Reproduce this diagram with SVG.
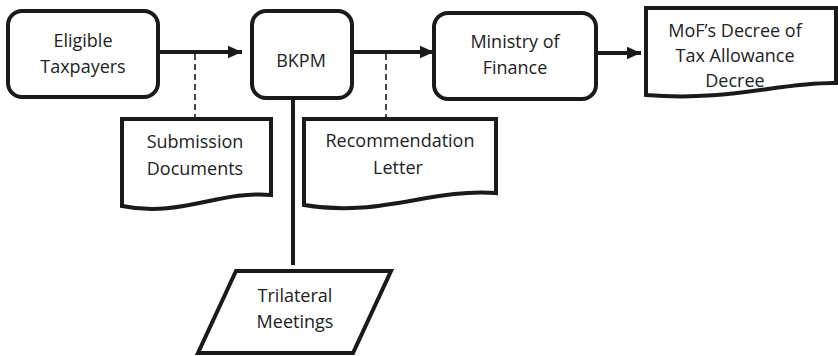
<svg xmlns="http://www.w3.org/2000/svg" width="838" height="356" viewBox="0 0 838 356">
<style>
.box{fill:#fff;stroke:#1a1a1a;stroke-width:4;stroke-linejoin:round}
.doc{fill:#fff;stroke:#1a1a1a;stroke-width:4;stroke-linejoin:miter}
.t{font-family:"Open Sans","Liberation Sans",sans-serif;font-size:18px;fill:#222;text-anchor:middle}
.ln{stroke:#1a1a1a;stroke-width:4;fill:none}
.dash{stroke:#1a1a1a;stroke-width:1.6;stroke-dasharray:6 4;fill:none}
</style>
<defs>
<marker id="ah" markerWidth="4" markerHeight="4" refX="3.6" refY="2" orient="auto" markerUnits="strokeWidth">
<path d="M0,0.4 L3.6,2 L0,3.6 Z" fill="#1a1a1a"/>
</marker>
</defs>
<g id="connectors">
<line class="ln" x1="158" y1="52" x2="242" y2="52" marker-end="url(#ah)"/>
<line class="ln" x1="352" y1="52" x2="434" y2="52" marker-end="url(#ah)"/>
<line class="ln" x1="596" y1="53" x2="641" y2="53" marker-end="url(#ah)"/>
<line class="dash" x1="195" y1="54" x2="195" y2="119"/>
<line class="dash" x1="386" y1="54" x2="386" y2="119"/>
<line class="ln" x1="293" y1="98" x2="293" y2="265"/>
</g>
<g id="eligible">
<rect class="box" x="8" y="11" width="150" height="86" rx="14"/>
<text class="t" x="83" y="47">Eligible</text>
<text class="t" x="83" y="73">Taxpayers</text>
</g>
<g id="bkpm">
<rect class="box" x="252" y="11" width="100" height="87" rx="14"/>
<text class="t" x="301" y="67">BKPM</text>
</g>
<g id="ministry">
<rect class="box" x="434" y="13" width="162" height="86" rx="14"/>
<text class="t" x="515" y="48">Ministry of</text>
<text class="t" x="515" y="74">Finance</text>
</g>
<g id="mof-decree">
<path class="doc" d="M646,8 H836 V83 C780,82 730,102 646,95 Z"/>
<text class="t" x="735" y="37">MoF’s Decree of</text>
<text class="t" x="735" y="62">Tax Allowance</text>
<text class="t" x="735" y="87">Decree</text>
</g>
<g id="submission">
<path class="doc" d="M122,119 H271 V195 C220,190 180,218 122,206 Z"/>
<text class="t" x="195" y="148">Submission</text>
<text class="t" x="195" y="175">Documents</text>
</g>
<g id="recommendation">
<path class="doc" d="M304,119 H496 V193 C430,188 380,218 304,205 Z"/>
<text class="t" x="400" y="147">Recommendation</text>
<text class="t" x="398" y="174">Letter</text>
</g>
<g id="trilateral">
<path class="doc" d="M236,271 H391 L353,353 H198 Z"/>
<text class="t" x="295" y="302">Trilateral</text>
<text class="t" x="295" y="328">Meetings</text>
</g>
</svg>
